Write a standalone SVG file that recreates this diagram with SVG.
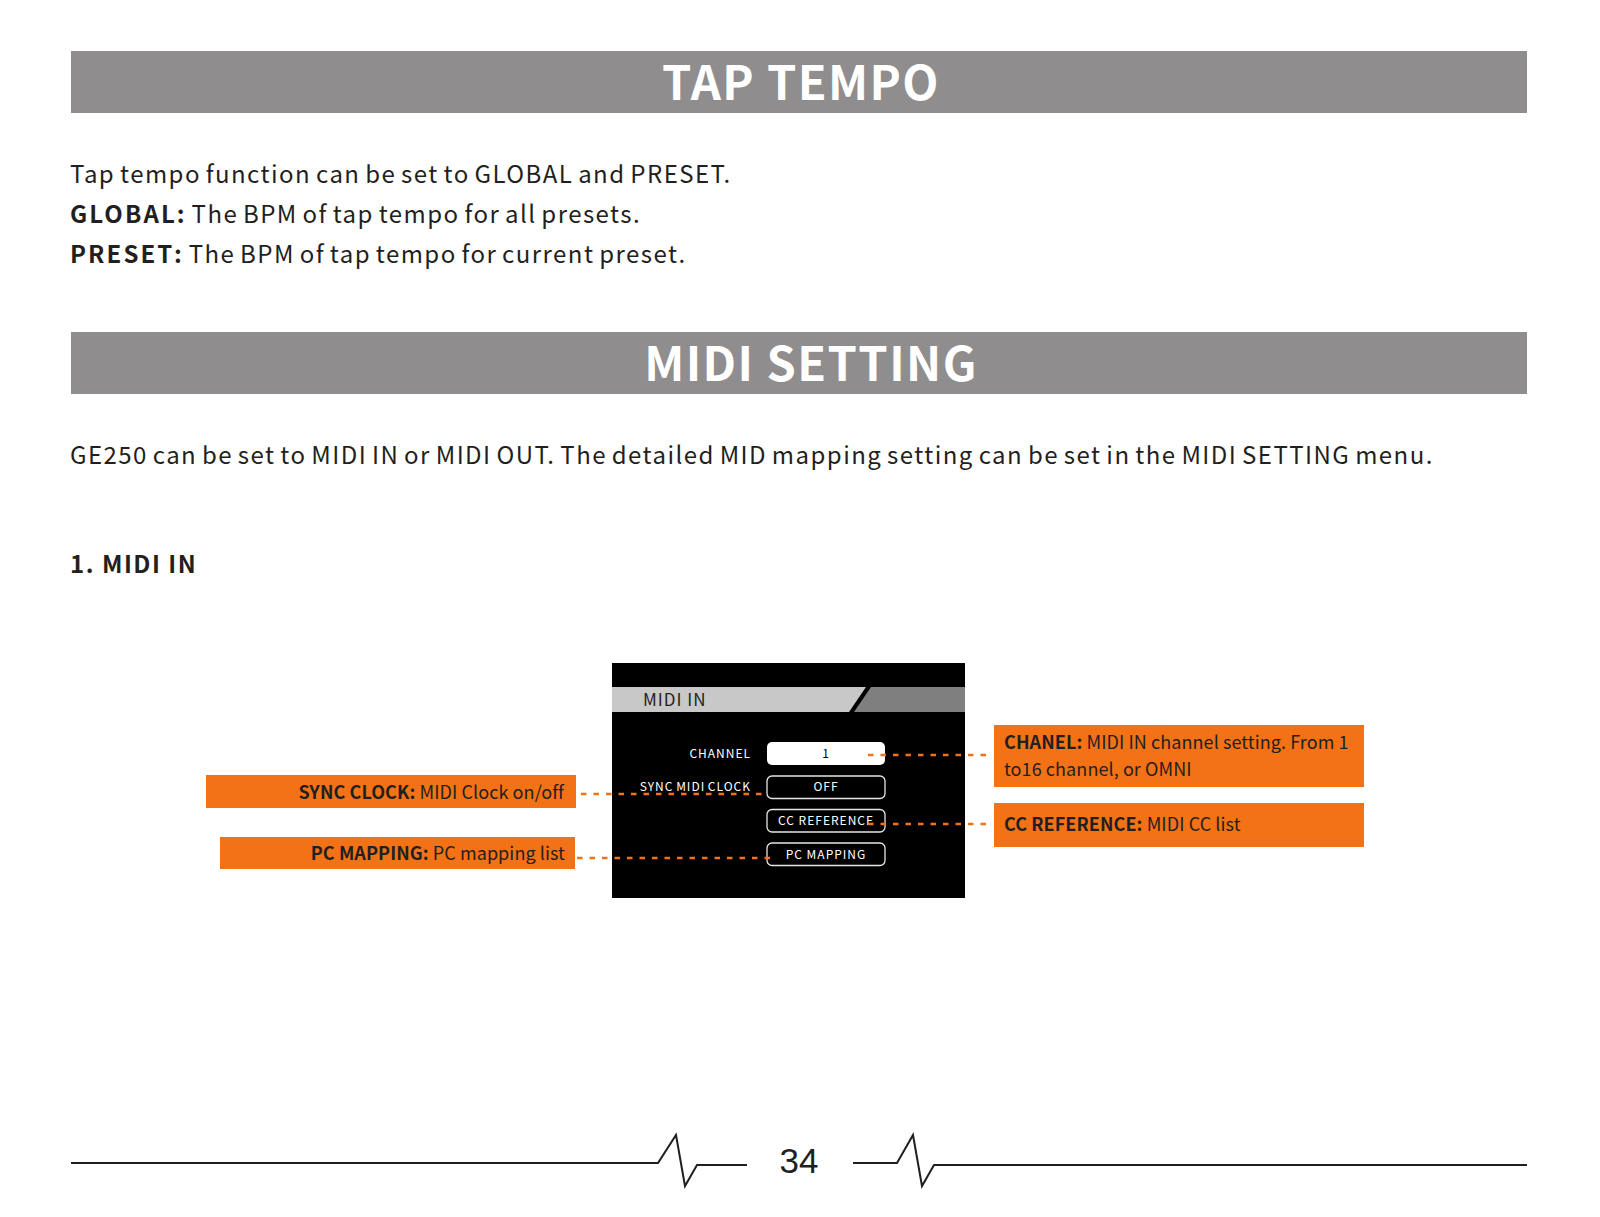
<svg xmlns="http://www.w3.org/2000/svg" width="1600" height="1217" viewBox="0 0 1600 1217">
<style>
  .hdr { fill: #8f8d8e; }
  .hdrtxt { font-family: "Noto Sans CJK SC", "Noto Sans", sans-serif; font-weight: 700; font-size: 47px; fill: #ffffff; text-anchor: middle; letter-spacing: 1.4px; }
  .body { font-family: "Noto Sans CJK SC", "Noto Sans", sans-serif; font-size: 24px; fill: #231f20; letter-spacing: 1.45px; word-spacing: -2px; }
  .sub { font-family: "Noto Sans CJK SC", "Noto Sans", sans-serif; font-size: 24px; fill: #231f20; letter-spacing: 1.5px; font-weight: 700; }
  .b { font-weight: 700; }
  .bb { font-weight: 700; letter-spacing: 2.1px; }
  .scr { font-family: "Noto Sans CJK SC", "Noto Sans", sans-serif; font-size: 12px; fill: #ffffff; letter-spacing: 1px; }
  .btn { fill: #000000; stroke: #e6e6e6; stroke-width: 1.3; }
  .call { fill: #f47216; }
  .ctxt { font-family: "Noto Sans CJK SC", "Noto Sans", sans-serif; font-size: 18px; fill: #231f20; letter-spacing: 0.08px; }
  .dash { fill: none; stroke: #f47216; stroke-width: 2.5; stroke-dasharray: 5.5 7; }
  .foot { fill: none; stroke: #231f20; stroke-width: 2; }
</style>

<g id="tap-tempo-header">
  <rect class="hdr" x="71" y="51" width="1456" height="62"/>
  <text class="hdrtxt" x="801" y="100">TAP TEMPO</text>
</g>

<g id="tap-tempo-text">
  <text class="body" x="70" y="183">Tap tempo function can be set to GLOBAL and PRESET.</text>
  <text class="body" x="70" y="223"><tspan class="bb">GLOBAL:</tspan> The BPM of tap tempo for all presets.</text>
  <text class="body" x="70" y="263"><tspan class="bb">PRESET:</tspan> The BPM of tap tempo for current preset.</text>
</g>

<g id="midi-setting-header">
  <rect class="hdr" x="71" y="332" width="1456" height="62"/>
  <text class="hdrtxt" x="811" y="381">MIDI SETTING</text>
</g>

<g id="midi-setting-text">
  <text class="body" x="70" y="464">GE250 can be set to MIDI IN or MIDI OUT. The detailed MID mapping setting can be set in the MIDI SETTING menu.</text>
  <text class="sub" x="70" y="573">1. MIDI IN</text>
</g>

<g id="screen">
  <rect x="612" y="663" width="353" height="235" fill="#000000"/>
  <polygon points="612,687 866,687 849,712 612,712" fill="#c8c8c8"/>
  <polygon points="871,687 965,687 965,712 854,712" fill="#7f7f7f"/>
  <text x="643" y="706" font-family="Noto Sans CJK SC, Noto Sans, sans-serif" font-size="17" fill="#231f20" letter-spacing="1">MIDI IN</text>

  <g id="item-channel">
    <text class="scr" x="751" y="758" text-anchor="end" letter-spacing="1.5">CHANNEL</text>
    <rect x="767" y="742" width="118" height="23" rx="5" fill="#ffffff"/>
    <text class="scr" x="826" y="758" text-anchor="middle" style="fill:#000">1</text>
  </g>
  <g id="item-sync">
    <text class="scr" x="751" y="791" text-anchor="end" letter-spacing="0" word-spacing="-1">SYNC MIDI CLOCK</text>
    <rect class="btn" x="767" y="776" width="118" height="22.5" rx="5"/>
    <text class="scr" x="826" y="791" text-anchor="middle">OFF</text>
  </g>
  <g id="item-cc">
    <rect class="btn" x="767" y="809.5" width="118" height="22.5" rx="5"/>
    <text class="scr" x="826" y="825" text-anchor="middle" letter-spacing="0.7">CC REFERENCE</text>
  </g>
  <g id="item-pc">
    <rect class="btn" x="767" y="843" width="118" height="22.5" rx="5"/>
    <text class="scr" x="826" y="859" text-anchor="middle" letter-spacing="0.9">PC MAPPING</text>
  </g>
</g>

<g id="callout-sync">
  <rect class="call" x="206" y="775" width="370" height="33"/>
  <text class="ctxt" x="564" y="799" text-anchor="end"><tspan class="b">SYNC CLOCK:</tspan> MIDI Clock on/off</text>
</g>
<g id="callout-pc">
  <rect class="call" x="220" y="837" width="355" height="32"/>
  <text class="ctxt" x="565" y="860" text-anchor="end"><tspan class="b">PC MAPPING:</tspan> PC mapping list</text>
</g>
<g id="callout-channel">
  <rect class="call" x="994" y="725" width="370" height="62"/>
  <text class="ctxt" x="1004" y="749"><tspan class="b">CHANEL:</tspan> MIDI IN channel setting. From 1</text>
  <text class="ctxt" x="1004" y="776">to16 channel, or OMNI</text>
</g>
<g id="callout-cc">
  <rect class="call" x="994" y="803" width="370" height="44"/>
  <text class="ctxt" x="1004" y="831"><tspan class="b">CC REFERENCE:</tspan> MIDI CC list</text>
</g>

<g id="connectors">
  <line class="dash" x1="868" y1="755" x2="990" y2="755"/>
  <line class="dash" x1="581" y1="794" x2="767" y2="794"/>
  <line class="dash" x1="868" y1="824" x2="990" y2="824"/>
  <line class="dash" x1="577" y1="858" x2="773" y2="858"/>
</g>

<g id="footer">
  <path class="foot" d="M71 1163 L658 1163 L676 1135 L685 1186 L697 1165 L747 1165"/>
  <path class="foot" d="M853 1163 L897 1163 L913 1135 L922 1186 L934 1165 L1527 1165"/>
  <text x="799" y="1173" font-family="Liberation Sans, Arial, sans-serif" font-size="35" fill="#231f20" text-anchor="middle">34</text>
</g>
</svg>
